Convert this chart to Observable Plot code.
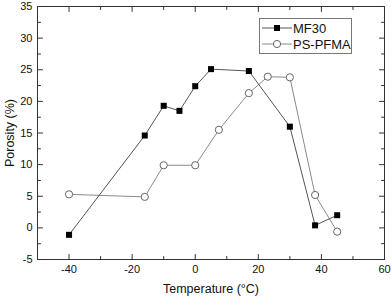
<!DOCTYPE html>
<html>
<head>
<meta charset="utf-8">
<script src="https://cdn.jsdelivr.net/npm/d3@7"></script>
<script src="https://cdn.jsdelivr.net/npm/@observablehq/plot@0.6"></script>
<style>
  body { margin: 0; background: #fff; }
  #chart { position: relative; width: 391px; height: 298px; font-family: "Liberation Sans", Arial, sans-serif; }
  #legend { position: absolute; left: 259px; top: 18px; width: 93px; height: 36px; border: 1px solid #777; background: #fff; box-sizing: border-box; font-size: 13px; color: #111; }
  #legend .row { position: absolute; left: 2px; height: 16px; display: flex; align-items: center; }
  #legend svg { display: block; }
  #legend span { margin-left: 1px; }
</style>
</head>
<body>
<div id="chart"></div>
<script>
const mf30Temp = [-40, -16, -10, -5, 0, 5, 17, 30, 38, 45];
const mf30Porosity = [-1.1, 14.6, 19.3, 18.5, 22.4, 25.1, 24.8, 16.0, 0.4, 2.0];
const pspfmaTemp = [-40, -16, -10, 0, 7.5, 17, 23, 30, 38, 45];
const pspfmaPorosity = [5.3, 4.9, 9.9, 9.9, 15.5, 21.3, 23.9, 23.8, 5.2, -0.6];
const seriesNames = ["MF30", "PS-PFMA"];
const xMajor = [-40, -20, 0, 20, 40, 60];
const xMinor = [-50, -30, -10, 10, 30, 50];
const yMajor = [-5, 0, 5, 10, 15, 20, 25, 30, 35];
const yMinor = [-2.5, 2.5, 7.5, 12.5, 17.5, 22.5, 27.5, 32.5];

const mf30 = mf30Temp.map((t, i) => ({t, p: mf30Porosity[i]}));
const ps = pspfmaTemp.map((t, i) => ({t, p: pspfmaPorosity[i]}));

const tickShape = {draw(context, l) { context.moveTo(0, 0); context.lineTo(0, -l); }};
function ticksX(values, side, len) {
  return Plot.vector(values, {x: d => d, frameAnchor: side, length: len, rotate: side === "bottom" ? 0 : 180,
    anchor: "start", shape: tickShape, stroke: "#333", strokeWidth: 1});
}
function ticksY(values, side, len) {
  return Plot.vector(values, {y: d => d, frameAnchor: side, length: len, rotate: side === "left" ? 90 : -90,
    anchor: "start", shape: tickShape, stroke: "#333", strokeWidth: 1});
}

const font = "Liberation Sans, Arial, sans-serif";
const plot = Plot.plot({
  width: 391,
  height: 298,
  marginLeft: 37,
  marginRight: 7,
  marginTop: 6,
  marginBottom: 39,
  style: {fontFamily: font, fontSize: "11px", color: "#111", background: "#fff"},
  x: {domain: [-50, 60], label: null},
  y: {domain: [-5, 35], label: null},
  marks: [
    Plot.frame({stroke: "#333", strokeWidth: 1}),
    ticksX(xMajor, "bottom", 5),
    ticksX(xMinor, "bottom", 3),
    ticksX(xMajor, "top", 5),
    ticksX(xMinor, "top", 3),
    ticksY(yMajor, "left", 5),
    ticksY(yMinor, "left", 3),
    ticksY(yMajor, "right", 5),
    ticksY(yMinor, "right", 3),
    Plot.axisX(xMajor, {anchor: "bottom", tickSize: 0, tickPadding: 6, fontSize: 11, fill: "#111",
      tickFormat: d => String(d),
      label: "Temperature (°C)", labelAnchor: "center", labelArrow: "none", labelOffset: 33}),
    Plot.axisY(yMajor, {anchor: "left", tickSize: 0, tickPadding: 5, fontSize: 11, fill: "#111",
      tickFormat: d => String(d),
      label: "Porosity (%)", labelAnchor: "center", labelArrow: "none", labelOffset: 32}),
    // series
    Plot.line(ps, {x: "t", y: "p", stroke: "#8a8a8a", strokeWidth: 1}),
    Plot.line(mf30, {x: "t", y: "p", stroke: "#555", strokeWidth: 1}),
    Plot.dot(ps, {x: "t", y: "p", r: 3.6, fill: "#fff", stroke: "#666", strokeWidth: 1}),
    Plot.dot(mf30, {x: "t", y: "p", symbol: "square", r: 3.4, fill: "#000", stroke: "none"})
  ]
});
plot.querySelectorAll("[aria-label$='axis label'] text").forEach(t => t.setAttribute("font-size", "12.5"));
const chart = document.getElementById("chart");
chart.appendChild(plot);

const legend = document.createElement("div");
legend.id = "legend";
legend.innerHTML = `
  <div class="row" style="top:1px"><svg width="30" height="16"><line x1="0" y1="8" x2="30" y2="8" stroke="#555"/><rect x="12" y="5" width="6" height="6" fill="#000"/></svg><span>${seriesNames[0]}</span></div>
  <div class="row" style="top:17px"><svg width="30" height="16"><line x1="0" y1="8" x2="30" y2="8" stroke="#8a8a8a"/><circle cx="15" cy="8" r="3.6" fill="#fff" stroke="#666"/></svg><span>${seriesNames[1]}</span></div>`;
chart.appendChild(legend);
</script>
</body>
</html>
